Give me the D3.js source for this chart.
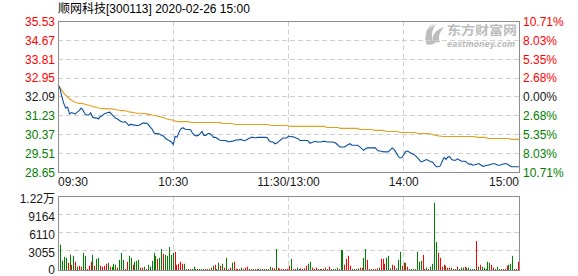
<!DOCTYPE html>
<html><head><meta charset="utf-8">
<script src="https://cdn.jsdelivr.net/npm/d3@7/dist/d3.min.js"></script>
<style>body{margin:0;background:#fff}svg{display:block}</style>
</head><body><svg id="c" width="578" height="276"></svg>
<script>
const title = "顺网科技[300113] 2020-02-26 15:00";
const prevClose = 32.09;
const priceTicks = [35.53,34.67,33.81,32.95,32.09,31.23,30.37,29.51,28.65];
const pctTicks = ["10.71%","8.03%","5.35%","2.68%","0.00%","2.68%","5.35%","8.03%","10.71%"];
const timeIndex = [0,60,120,180,240];
const timeLabels = ["09:30","10:30","11:30/13:00","14:00","15:00"];
const volTicks = [12220,9164,6110,3055,0];
const volTickLabels = ["1.22万","9164","6110","3055","0"];

const price = [
32.65,32.48,32.10,31.80,31.59,31.62,31.32,31.38,31.35,31.32,31.40,
31.47,31.58,31.49,31.32,31.27,31.27,31.37,31.17,31.14,31.14,
31.09,31.20,31.23,31.32,31.35,31.38,31.40,31.30,31.21,31.12,
31.09,31.02,30.96,30.94,30.97,30.88,30.79,30.85,30.82,30.81,
30.79,30.79,30.84,30.90,30.90,30.90,30.84,30.72,30.63,30.46,
30.42,30.42,30.39,30.34,30.31,30.20,30.14,30.10,30.04,29.93,
30.29,30.26,30.49,30.64,30.69,30.63,30.61,30.61,30.60,30.44,
30.35,30.32,30.34,30.42,30.52,30.34,30.34,30.42,30.42,30.35,
30.25,30.25,30.20,30.13,30.11,30.11,30.11,30.08,30.04,30.07,
30.08,30.11,30.14,30.13,30.16,30.13,30.10,30.13,30.19,30.22,
30.26,30.23,30.23,30.25,30.25,30.25,30.25,30.25,30.23,30.08,
30.04,30.04,29.96,29.99,30.07,30.14,30.22,30.22,30.22,30.31,
30.28,30.29,30.26,30.22,30.19,30.11,30.11,30.11,30.11,30.11,
29.99,30.01,30.04,30.07,30.04,30.04,30.04,30.07,30.07,30.04,
30.04,30.04,30.04,30.02,29.96,29.87,29.81,29.81,29.81,29.86,
29.92,29.96,29.89,29.89,29.89,29.89,29.83,29.75,29.66,29.72,
29.77,29.77,29.78,29.77,29.78,29.69,29.63,29.63,29.60,29.59,
29.59,29.60,29.68,29.77,29.69,29.57,29.40,29.31,29.33,29.46,
29.61,29.63,29.57,29.52,29.48,29.42,29.34,29.24,29.13,29.16,
29.21,29.24,29.19,29.15,29.12,29.01,28.91,28.91,28.95,29.15,
29.34,29.25,29.36,29.36,29.24,29.21,29.21,29.27,29.22,29.16,
29.16,29.16,29.09,29.03,29.03,28.98,29.00,29.03,29.06,29.00,
28.94,28.94,28.98,28.98,29.01,29.04,29.06,29.03,28.98,28.98,
29.01,29.04,29.06,29.03,28.97,28.91,28.91,28.91,28.91,28.91
];

const avgPrice = [
32.65,32.53,32.39,32.27,32.17,32.09,32.01,31.94,31.89,31.85,
31.82,31.80,31.80,31.79,31.76,31.74,31.71,31.68,31.67,31.64,
31.62,31.59,31.58,31.56,31.56,31.56,31.55,31.55,31.55,31.53,
31.52,31.50,31.49,31.47,31.47,31.46,31.44,31.41,31.40,31.38,
31.37,31.35,31.35,31.35,31.34,31.34,31.32,31.30,31.30,31.27,
31.26,31.24,31.21,31.20,31.17,31.14,31.11,31.09,31.06,31.05,
31.03,30.99,30.97,30.97,30.97,30.97,30.97,30.97,30.97,30.93,
30.93,30.93,30.93,30.93,30.93,30.93,30.93,30.93,30.93,30.93,
30.93,30.93,30.93,30.93,30.93,30.91,30.88,30.88,30.88,30.88,
30.88,30.87,30.84,30.84,30.84,30.84,30.84,30.84,30.84,30.84,
30.84,30.84,30.84,30.84,30.84,30.84,30.84,30.84,30.84,30.84,
30.81,30.79,30.79,30.79,30.79,30.79,30.79,30.79,30.79,30.79,
30.78,30.75,30.75,30.75,30.75,30.75,30.75,30.75,30.75,30.75,
30.75,30.75,30.75,30.75,30.75,30.75,30.75,30.75,30.75,30.75,
30.70,30.70,30.70,30.70,30.70,30.70,30.70,30.66,30.66,30.66,
30.66,30.66,30.66,30.66,30.66,30.66,30.66,30.61,30.61,30.61,
30.61,30.61,30.61,30.61,30.59,30.57,30.57,30.57,30.57,30.57,
30.55,30.52,30.52,30.52,30.52,30.52,30.52,30.52,30.47,30.47,
30.47,30.47,30.47,30.47,30.47,30.47,30.47,30.43,30.43,30.43,
30.43,30.43,30.43,30.43,30.40,30.38,30.35,30.34,30.32,30.31,
30.29,30.29,30.29,30.29,30.29,30.29,30.29,30.29,30.29,30.29,
30.29,30.29,30.29,30.29,30.29,30.29,30.29,30.29,30.25,30.25,
30.25,30.25,30.25,30.23,30.20,30.20,30.20,30.20,30.20,30.20,
30.20,30.20,30.20,30.20,30.20,30.19,30.16,30.16,30.16,30.16,
30.16
];

const volume = [
4297,1562,2232,2065,1228,2623,893,2399,1395,558,
725,558,2902,2399,167,725,1395,2567,725,1897,
2065,725,558,725,1060,1228,558,558,1060,893,
391,1730,2902,1730,167,1395,2399,2065,893,1395,
1562,1730,391,391,558,167,893,558,1562,2902,
2399,1897,2065,3571,2734,2567,2399,3906,2567,2902,
3069,893,1060,1395,1060,1060,167,167,167,167,
558,167,167,167,167,167,167,167,167,391,
725,893,167,1228,725,1060,391,2065,167,391,
1228,1395,167,167,167,391,167,391,558,167,
167,167,167,167,167,167,167,167,167,167,
558,391,279,3571,391,167,167,167,167,167,
725,1897,167,167,391,167,279,167,279,725,
1060,1395,391,167,391,167,167,167,167,391,
167,558,167,167,167,391,167,3404,3404,893,
1897,2399,725,167,167,167,279,391,391,2065,
3571,1730,167,167,167,167,279,391,1897,1897,
1060,2065,2399,279,893,725,279,1730,3069,725,
1228,1228,558,167,167,167,167,3069,1395,1562,
2567,167,391,167,558,1060,11439,4743,2902,2065,
558,893,725,391,391,391,167,167,558,167,
391,391,558,391,391,167,167,167,4910,558,
893,558,391,167,1395,1228,893,391,167,558,
167,167,167,167,725,893,1060,2399,167,167,
1395
];

const volDir = [
"d","d","d","d","u","d","u","d","u","d",
"u","u","d","d","u","u","u","d","u","d",
"d","u","u","u","u","d","u","d","d","d",
"u","d","d","d","u","u","d","d","u","d",
"d","d","u","u","d","u","d","d","d","d",
"d","u","d","d","u","d","d","d","d","d",
"u","u","u","u","u","d","d","u","u","d",
"d","d","u","d","d","d","u","u","d","u",
"d","u","d","d","u","d","u","d","u","u",
"d","u","u","u","u","d","u","u","u","u",
"d","u","d","u","d","d","u","d","u","d",
"d","u","u","d","u","u","u","u","u","u",
"u","d","u","u","d","d","u","u","u","u",
"d","d","u","u","u","d","d","u","u","u",
"d","u","u","d","d","d","u","d","d","u",
"u","u","u","d","d","u","d","u","u","d",
"d","u","u","d","u","u","u","d","u","u",
"u","d","d","d","u","u","d","d","d","u",
"d","u","u","u","d","d","u","d","d","d",
"u","u","d","u","d","d","d","d","u","u",
"u","u","d","u","u","d","u","d","u","d",
"d","d","u","d","d","d","d","d","u","d",
"u","d","d","d","d","d","u","u","u","d",
"d","d","u","u","u","d","d","d","u","u",
"u"
];

const RED = "#ff0000", GREEN = "#008000", DARK = "#1a1a1a";
const FONT = "'Liberation Sans', Arial, 'Noto Sans CJK SC', sans-serif";
const svg = d3.select("#c");

const x = d3.scaleLinear().domain([0, 240]).range([58, 519]);
const y = d3.scaleLinear().domain([28.65, 35.53]).range([172.5, 21.5]);
const xB = d3.scaleLinear().domain([0, 240]).range([60, 518]);
const yV = d3.scaleLinear().domain([0, 12220]).range([268.5, 196.5]);
const px = v => Math.floor(v) + 0.5;

// title
svg.append("text").attr("x", 58).attr("y", 13)
  .attr("font-family", FONT).attr("font-size", 12).attr("fill", "#000").text(title);

// watermark
const wm = svg.append("g").attr("fill", "#bdbdbd");
wm.append("path").attr("d", "M427,45 C423,37 426,29 436,24 C431,31 431,38 434,44 Z");
wm.append("path").attr("d", "M433,43 C431,36 435,30 444,27 C439,33 438,38 440,42 Z");
wm.append("path").attr("d", "M426,33 C427,28 431,25 434,23 C430,27 428,30 428,34 Z");
wm.append("text").attr("x", 447).attr("y", 35).attr("font-size", 12.5).attr("font-weight", "bold")
  .attr("font-family", "'Noto Sans CJK SC', sans-serif")
  .attr("textLength", 70).attr("lengthAdjust", "spacingAndGlyphs").text("东方财富网");
wm.append("text").attr("x", 447).attr("y", 46.5).attr("font-size", 8).attr("font-weight", "bold")
  .attr("font-style", "italic").attr("font-family", "'DejaVu Sans', sans-serif")
  .attr("textLength", 68).attr("lengthAdjust", "spacingAndGlyphs").text("eastmoney.com");

// grids
const grid = svg.append("g").attr("stroke", "#cfcfcf").attr("stroke-dasharray", "5,3").attr("fill", "none");
priceTicks.slice(1, -1).forEach(v => {
  grid.append("line").attr("x1", 58).attr("x2", 519).attr("y1", px(y(v))).attr("y2", px(y(v)));
});
timeIndex.slice(1, -1).forEach(m => {
  grid.append("line").attr("x1", px(x(m))).attr("x2", px(x(m))).attr("y1", 21.5).attr("y2", 172.5);
  grid.append("line").attr("x1", px(x(m))).attr("x2", px(x(m))).attr("y1", 196.5).attr("y2", 270.5);
});
volTicks.slice(1, -1).forEach(v => {
  grid.append("line").attr("x1", 58).attr("x2", 519).attr("y1", px(yV(v))).attr("y2", px(yV(v)));
});

// volume bars
svg.append("g").selectAll("rect").data(volume).join("rect")
  .attr("x", (d, i) => Math.round(xB(i)))
  .attr("width", 1)
  .attr("y", d => Math.min(yV(d) + 1.5, 269))
  .attr("height", d => 270 - Math.min(yV(d) + 1.5, 269))
  .attr("fill", (d, i) => volDir[i] === "u" ? RED : GREEN);

// lines
const line = d3.line().x((d, i) => x(i)).y(d => y(d));
svg.append("path").datum(avgPrice).attr("d", line).attr("fill", "none")
  .attr("stroke", "#e0a11e").attr("stroke-width", 1.1);
svg.append("path").datum(price).attr("d", line).attr("fill", "none")
  .attr("stroke", "#0b4ea2").attr("stroke-width", 1.1);

// borders
svg.append("rect").attr("x", 58.5).attr("y", 21.5).attr("width", 461).attr("height", 151)
  .attr("fill", "none").attr("stroke", "#8c8c8c");
svg.append("rect").attr("x", 58.5).attr("y", 196.5).attr("width", 461).attr("height", 74)
  .attr("fill", "none").attr("stroke", "#8c8c8c");

// price axis labels
const colorOf = v => v > prevClose + 1e-9 ? RED : (v < prevClose - 1e-9 ? GREEN : DARK);
svg.append("g").selectAll("text").data(priceTicks).join("text")
  .attr("x", 55).attr("y", d => y(d)).attr("dy", "0.36em")
  .attr("text-anchor", "end").attr("font-family", FONT).attr("font-size", 12)
  .attr("fill", colorOf).text(d => d.toFixed(2));
svg.append("g").selectAll("text").data(pctTicks).join("text")
  .attr("x", 523).attr("y", (d, i) => y(priceTicks[i])).attr("dy", "0.36em")
  .attr("text-anchor", "start").attr("font-family", FONT).attr("font-size", 12)
  .attr("fill", (d, i) => colorOf(priceTicks[i])).text(d => d);

// time labels
svg.append("g").selectAll("text").data(timeLabels).join("text")
  .attr("x", (d, i) => x(timeIndex[i]))
  .attr("y", 182).attr("dy", "0.36em")
  .attr("text-anchor", (d, i) => i === 0 ? "start" : (i === timeLabels.length - 1 ? "end" : "middle"))
  .attr("font-family", FONT).attr("font-size", 12).attr("fill", DARK).text(d => d);

// volume labels
svg.append("g").selectAll("text").data(volTickLabels).join("text")
  .attr("x", 55).attr("y", (d, i) => Math.min(yV(volTicks[i]) + 2, 270)).attr("dy", "0.36em")
  .attr("text-anchor", "end").attr("font-family", FONT).attr("font-size", 12)
  .attr("fill", DARK).text(d => d);
</script></body></html>
